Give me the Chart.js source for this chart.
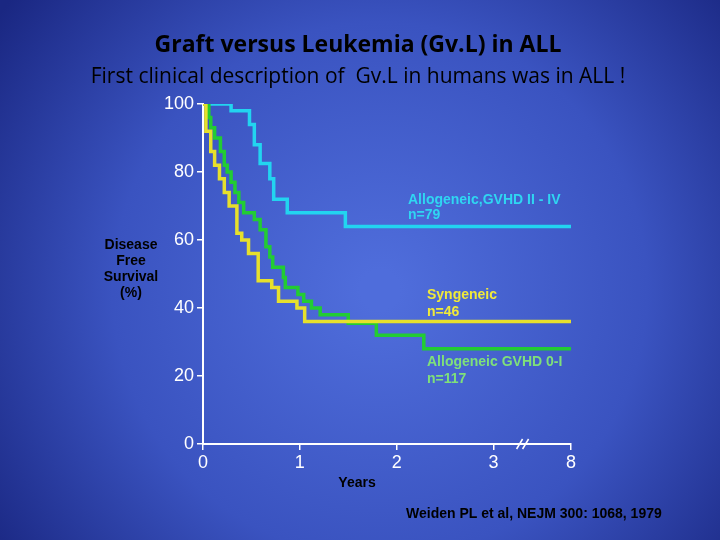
<!DOCTYPE html>
<html>
<head>
<meta charset="utf-8">
<script src="https://cdn.jsdelivr.net/npm/chart.js@4"></script>
<style>
  html, body { margin: 0; padding: 0; background: #1c2a86; }
  #wrap { width: 720px; height: 540px; }
</style>
</head>
<body>
<div id="wrap"><canvas id="km"></canvas></div>
<script>
// Kaplan-Meier step curves: time (years), survival (%)
var gvhdHighTimes = [0, 0.29, 0.48, 0.53, 0.59, 0.69, 0.73, 0.87, 1.47, 8];
var gvhdHighSurv  = [100, 98, 94, 88, 82.5, 78, 72, 68, 64, 64];

var syngTimes = [0, 0.03, 0.08, 0.12, 0.17, 0.22, 0.27, 0.35, 0.40, 0.47, 0.57, 0.71, 0.78, 0.97, 1.05, 8];
var syngSurv  = [100, 92, 86, 82, 78, 74, 70, 62, 60, 56, 48, 46, 42, 40, 36, 36];

var gvhdLowTimes = [0, 0.06, 0.08, 0.12, 0.18, 0.22, 0.25, 0.29, 0.33, 0.37, 0.42, 0.53, 0.59, 0.65, 0.69, 0.72, 0.83, 0.85, 0.98, 1.04, 1.12, 1.21, 1.50, 1.79, 2.28, 8];
var gvhdLowSurv  = [100, 96, 93, 90, 86, 82, 80, 77, 74, 71, 68, 66, 63, 58, 55, 52, 49, 46, 44, 42, 40, 38, 35.5, 32, 28, 28];

var xTickYears = [0, 1, 2, 3, 8];
var yTicks = [0, 20, 40, 60, 80, 100];

// axis is broken after 3 years: 3..8 squeezed into 0.8 of a unit
function xPos(t) { return t <= 3 ? t : 3 + (t - 3) * 0.16; }

function toPoints(times, surv) {
  return times.map(function(t, i) { return { x: xPos(t), y: surv[i] }; });
}

var overlay = {
  id: 'overlay',
  beforeDraw: function(chart) {
    var c = chart.ctx;
    var g = c.createRadialGradient(380, 290, 20, 380, 290, 470);
    g.addColorStop(0, '#4f6ddb');
    g.addColorStop(0.55, '#3a53c0');
    g.addColorStop(1, '#1a2782');
    c.save();
    c.fillStyle = g;
    c.fillRect(0, 0, chart.width, chart.height);
    c.restore();
  },
  afterDraw: function(chart) {
    var c = chart.ctx;
    c.save();
    c.fillStyle = '#000';
    c.textAlign = 'center';
    c.textBaseline = 'middle';
    c.font = 'bold 23px "Open Sans", sans-serif';
    c.fillText('Graft versus Leukemia (Gv.L) in ALL', 358, 45);
    c.font = '21px "Open Sans", sans-serif';
    c.fillText('First clinical description of  Gv.L in humans was in ALL !', 358, 77);

    c.font = 'bold 14px "Liberation Sans", Arial, sans-serif';
    ['Disease', 'Free', 'Survival', '(%)'].forEach(function(s, i) {
      c.fillText(s, 131, 245 + i * 16);
    });
    c.fillText('Years', 357, 483);

    c.textAlign = 'left';
    c.font = 'bold 14px "Liberation Sans", Arial, sans-serif';
    c.fillText('Weiden PL et al, NEJM 300: 1068, 1979', 406, 514);

    c.font = 'bold 14px "Liberation Sans", Arial, sans-serif';
    c.fillStyle = '#2fd6f2';
    c.fillText('Allogeneic,GVHD II - IV', 408, 200);
    c.fillText('n=79', 408, 215);
    c.fillStyle = '#f0ea3a';
    c.fillText('Syngeneic', 427, 295);
    c.fillText('n=46', 427, 312);
    c.fillStyle = '#7fe07a';
    c.fillText('Allogeneic GVHD 0-I', 427, 362);
    c.fillText('n=117', 427, 379);

    // axis break mark
    var xs = chart.scales.x, ys = chart.scales.y;
    var bx = xs.getPixelForValue(3.3), by = ys.getPixelForValue(0);
    c.strokeStyle = '#fff';
    c.lineWidth = 1.5;
    [-3, 3].forEach(function(d) {
      c.beginPath();
      c.moveTo(bx + d - 3, by + 5);
      c.lineTo(bx + d + 3, by - 5);
      c.stroke();
    });
    c.restore();
  }
};

function series(times, surv, color) {
  return {
    data: toPoints(times, surv),
    borderColor: color,
    borderWidth: 3.5,
    showLine: true,
    stepped: 'before',
    pointRadius: 0,
    fill: false
  };
}

new Chart(document.getElementById('km'), {
  type: 'scatter',
  data: {
    datasets: [
      series(syngTimes, syngSurv, '#e6e02c'),
      series(gvhdLowTimes, gvhdLowSurv, '#22cc33'),
      series(gvhdHighTimes, gvhdHighSurv, '#22d4f0')
    ]
  },
  options: {
    responsive: true,
    maintainAspectRatio: false,
    animation: false,
    layout: { padding: { top: 104, right: 149, left: 0, bottom: 0 } },
    plugins: { legend: { display: false }, tooltip: { enabled: false } },
    scales: {
      x: {
        type: 'linear', min: 0, max: xPos(8),
        afterBuildTicks: function(s) { s.ticks = xTickYears.map(function(t) { return { value: xPos(t) }; }); },
        afterFit: function(s) { s.height = 96; },
        ticks: {
          color: '#fff', padding: 2,
          font: { family: '"Liberation Sans", Arial, sans-serif', size: 18 },
          callback: function(v) { return String(xTickYears[xTickYears.map(xPos).indexOf(v)]); }
        },
        grid: { display: true, drawOnChartArea: false, color: '#fff', tickLength: 6, lineWidth: 1.5 },
        border: { color: '#fff', width: 2 }
      },
      y: {
        min: 0, max: 100,
        afterBuildTicks: function(s) { s.ticks = yTicks.map(function(v) { return { value: v }; }); },
        afterFit: function(s) { s.width = 203; },
        ticks: {
          color: '#fff', padding: 3,
          font: { family: '"Liberation Sans", Arial, sans-serif', size: 18 }
        },
        grid: { display: true, drawOnChartArea: false, color: '#fff', tickLength: 6, lineWidth: 1.5 },
        border: { color: '#fff', width: 2 }
      }
    }
  },
  plugins: [overlay]
});
</script>
</body>
</html>
